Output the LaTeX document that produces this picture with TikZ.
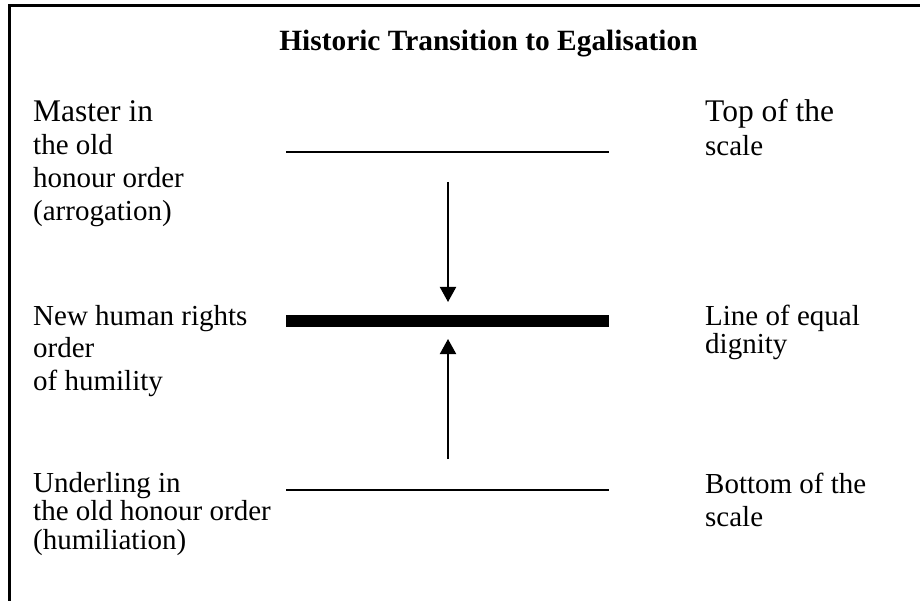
\documentclass[tikz,border=0pt]{standalone}
\usepackage{fontspec}
\setmainfont{Liberation Serif}
\usetikzlibrary{arrows.meta}

\begin{document}
\begin{tikzpicture}[x=1pt,y=-1pt]
\tikzset{lbl/.style={anchor=base west,inner sep=0pt,font=\fontsize{29}{#1}\selectfont},
         lbl/.default=32.5,
         big/.style={font=\fontsize{31.5}{33}\selectfont}}
\useasboundingbox (0,0) rectangle (920,601);

\draw[line width=2.6pt] (9.6,601)--(9.6,5.3)--(920,5.3);

\node[anchor=base,inner sep=0pt,font=\bfseries\fontsize{29.4}{32}\selectfont] (title) at (488.5,51) {Historic Transition to Egalisation};

% left side
\node[lbl=32.7] (master) at (33,122) {\begin{tabular}[t]{@{}l@{}}{\fontsize{31.5}{33}\selectfont Master in}\\the old\\honour order\\(arrogation)\end{tabular}};
\node[lbl=32.5] (newhr) at (33,325) {\begin{tabular}[t]{@{}l@{}}New human rights\\order\\of humility\end{tabular}};
\node[lbl=28] (underling) at (33,492) {\begin{tabular}[t]{@{}l@{}}Underling in\\the old honour order\\(humiliation)\end{tabular}};

% right side
\node[lbl=34] (topsc) at (705,122) {\begin{tabular}[t]{@{}l@{}}{\fontsize{31.5}{33}\selectfont Top of the}\\scale\end{tabular}};
\node[lbl=28] (equal) at (705,325) {\begin{tabular}[t]{@{}l@{}}Line of equal\\dignity\end{tabular}};
\node[lbl=33] (botsc) at (705,493) {\begin{tabular}[t]{@{}l@{}}Bottom of the\\scale\end{tabular}};

% the three levels
\coordinate (topL) at (286,152);
\coordinate (topR) at (609,152);
\coordinate (midL) at (286,321);
\coordinate (midR) at (609,321);
\coordinate (botL) at (286,490);
\coordinate (botR) at (609,490);
\draw[line width=2pt] (topL)--(topR);
\draw[line width=12pt] (midL)--(midR);
\draw[line width=2pt] (botL)--(botR);

% arrows to the middle
\coordinate (dnS) at (448,182);
\coordinate (dnE) at (448,302);
\coordinate (upS) at (448,459);
\coordinate (upE) at (448,339);
\draw[line width=2pt,-{Triangle[length=15pt,width=16pt]}] (dnS)--(dnE);
\draw[line width=2pt,-{Triangle[length=15pt,width=16pt]}] (upS)--(upE);

\end{tikzpicture}
\end{document}
